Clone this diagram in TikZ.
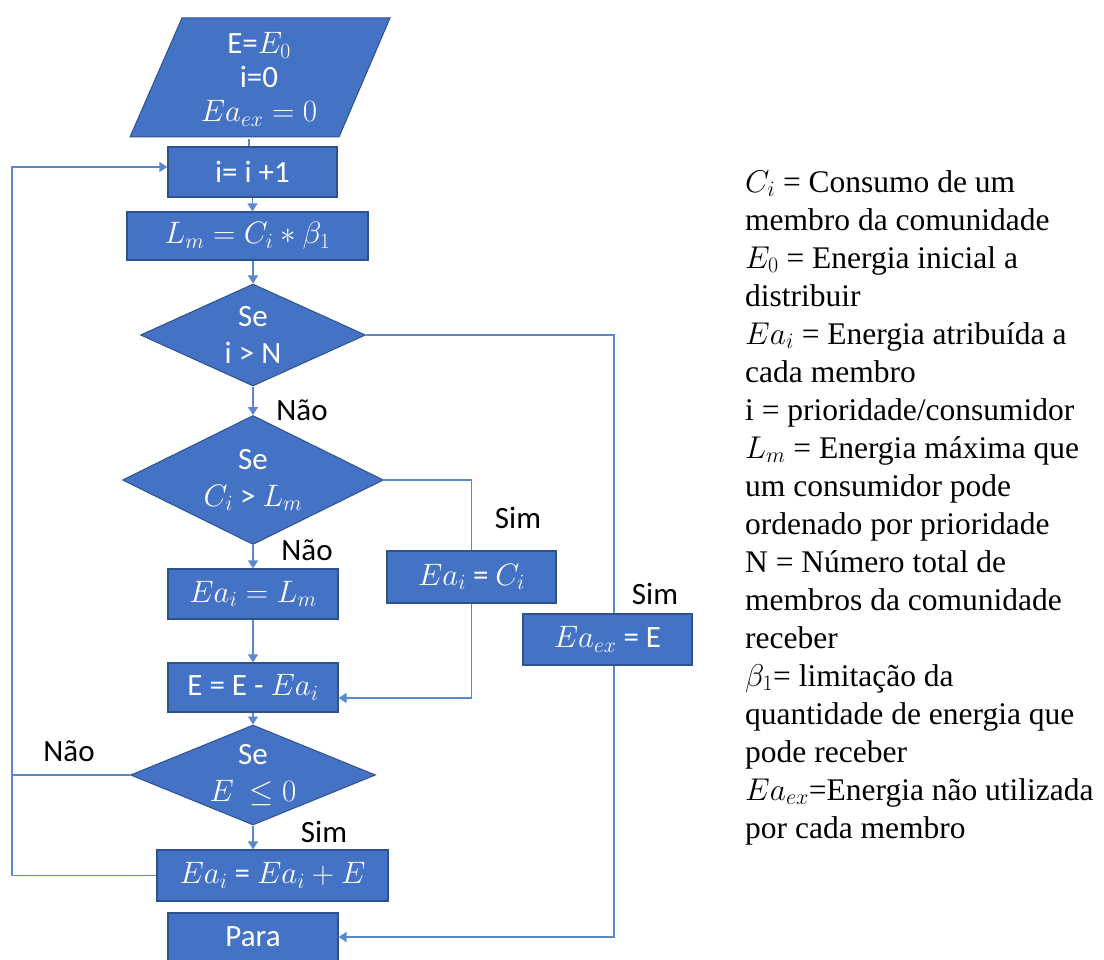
\RequirePackage{fix-cm}
\documentclass[tikz,border=0pt]{standalone}
\usepackage{fontspec}
\setmainfont{Carlito}
\newfontfamily\tnr{Liberation Serif}
\usetikzlibrary{shapes.geometric,arrows.meta}
\definecolor{ofblue}{HTML}{4472C4}
\definecolor{ofdark}{HTML}{2F528F}
\definecolor{lnblue}{HTML}{5B86D0}
\begin{document}
\begin{tikzpicture}[x=1pt,y=-1pt,
  boxfont/.style={font=\fontsize{31}{35}\selectfont},
  box/.style={rectangle,fill=ofblue,draw=ofdark,line width=1.2pt,text=white,inner sep=0pt,align=center,boxfont},
  dec/.style={diamond,aspect=2.4,fill=ofblue,draw=ofdark,line width=1pt,text=white,inner sep=0pt,align=center,font=\fontsize{31}{37}\selectfont},
  conn/.style={draw=lnblue,line width=1.3pt},
  arr/.style={conn,-{Triangle[width=10pt,length=8pt]}},
  lbl/.style={font=\fontsize{31}{35}\selectfont,text=black,inner sep=0pt}]
\useasboundingbox (0,0) rectangle (1104,960);
\path[fill=ofblue,draw=ofdark,line width=1pt] (182,18) -- (390,18) -- (339,137) -- (130,137) -- cycle;
\node[text=white,inner sep=0pt,align=center,minimum height=119pt,font=\fontsize{31}{34}\selectfont] (start) at (259,79.5) {E=$E_0$\\ i=0\\ $Ea_{ex}=0$};
\node[box,minimum width=169pt,minimum height=50pt] (inc) at (252.5,172) {i= i +1};
\node[box,minimum width=241pt,minimum height=48pt] (lm) at (247.5,236) {$L_m = C_i * \beta_1$};
\node[dec,minimum width=225pt,minimum height=102pt] (d1) at (253,335) {Se\\ i > N};
\node[dec,minimum width=261pt,minimum height=129pt] (d2) at (253,480) {Se\\ $C_i$ > $L_m$};
\node[box,minimum width=170pt,minimum height=50pt] (eal) at (253,594) {$Ea_i = L_m$};
\node[box,minimum width=169pt,minimum height=52pt] (eac) at (471.5,577) {$Ea_i$ = $C_i$};
\node[box,minimum width=170pt,minimum height=49pt] (ee) at (253,687.5) {E = E - $Ea_i$};
\node[dec,minimum width=245pt,minimum height=100pt] (d3) at (253,775) {Se\\ $E\ \leq 0$};
\node[box,minimum width=231pt,minimum height=51pt] (eaa) at (272.5,875.5) {$Ea_i$ = $Ea_i + E$};
\node[box,minimum width=170pt,minimum height=48pt] (para) at (253,937) {Para};
\coordinate (lx) at (12,0);
\coordinate (rx) at (614,0);
\coordinate (sx) at (249,0);
% connectors
\draw[conn] (start.south -| sx) -- (sx |- inc.north);
\draw[arr] (inc.south) -- (inc.south |- lm.north);
\draw[arr] (d1.north |- lm.south) -- (d1.north);
\draw[arr] (d1.south) -- (d2.north);
\draw[arr] (d2.south) -- (eal.north);
\draw[arr] (eal.south) -- (ee.north);
\draw[arr] (ee.south) -- (d3.north);
\draw[arr] (d3.south) -- (d3.south |- eaa.north);
\draw[conn] (d2.east) -| (eac.north);
\draw[arr] (eac.south) |- ([yshift=-10.5pt]ee.east);
\draw[arr] (d1.east) -| (rx |- para.east) -- (para.east);
\draw[conn] (d3.west) -- (d3.west -| lx);
\draw[arr] (eaa.west) -| ([yshift=5pt]inc.west -| lx) -- ([yshift=5pt]inc.west);
\node[box,minimum width=169pt,minimum height=51pt] (eaex) at (607.5,639.5) {$Ea_{ex}$ = E};
% labels
\node[lbl] (l1) at (302,410) {Não};
\node[lbl] (l2) at (307,550) {Não};
\node[lbl] (l3) at (518,518) {Sim};
\node[lbl] (l4) at (655,594) {Sim};
\node[lbl] (l5) at (69,751) {Não};
\node[lbl] (l6) at (324,832) {Sim};
% legend
\node[anchor=north west,align=left,inner sep=0pt,font=\tnr\fontsize{31.5}{38}\selectfont] (legend) at (745,170) {%
$C_i$ = Consumo de um\\
membro da comunidade\\
$E_0$ = Energia inicial a\\
distribuir\\
$Ea_i$ = Energia atribuída a\\
cada membro\\
i = prioridade/consumidor\\
$L_m$ = Energia máxima que\\
um consumidor pode\\
ordenado por prioridade\\
N = Número total de\\
membros da comunidade\\
receber\\
$\beta_1$= limitação da\\
quantidade de energia que\\
pode receber\\
$Ea_{ex}$=Energia não utilizada\\
por cada membro};
\end{tikzpicture}
\end{document}
